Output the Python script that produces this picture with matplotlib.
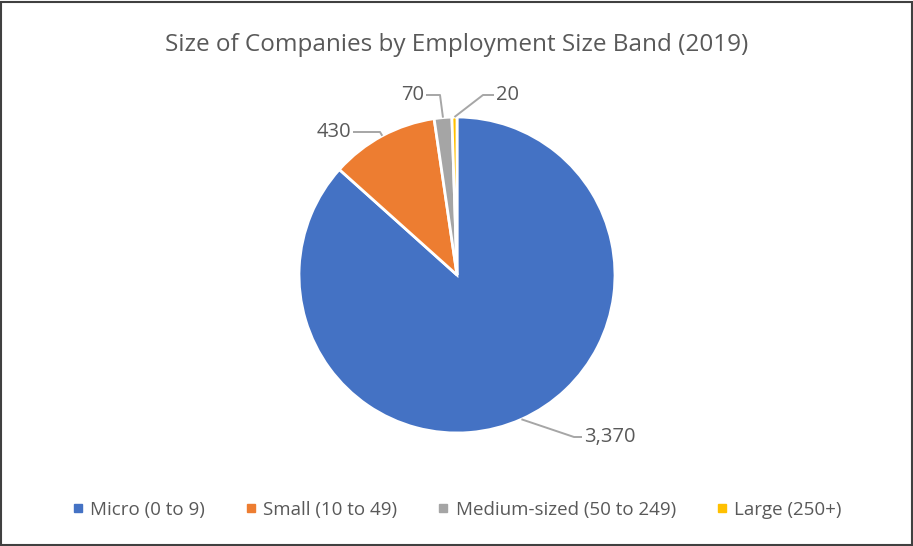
import numpy as np
import matplotlib.pyplot as plt
from matplotlib.patches import Rectangle
from matplotlib.lines import Line2D

plt.rcParams['font.family'] = ['Open Sans', 'DejaVu Sans']

bands = ["Micro (0 to 9)", "Small (10 to 49)", "Medium-sized (50 to 249)", "Large (250+)"]
counts = [3370, 430, 70, 20]
colors = ["#4472C4", "#ED7D31", "#A5A5A5", "#FFC000"]
value_labels = ["3,370", "430", "70", "20"]

text_color = "#595959"
line_color = "#A6A6A6"

fig = plt.figure(figsize=(9.13, 5.46), dpi=100)
ax = fig.add_axes([0, 0, 1, 1])

cx, cy, r = 457, 271, 158
wedges, _ = ax.pie(counts, colors=colors, startangle=90, counterclock=False,
                   center=(cx, cy), radius=r, frame=True,
                   wedgeprops=dict(edgecolor="white", linewidth=2))
ax.set_xlim(0, 913)
ax.set_ylim(0, 546)
ax.set_aspect("equal")
ax.axis("off")

# text position, alignment and elbow x for each slice label
label_pos = [(584, 109, "left", 574),
             (351, 414, "right", 380),
             (424, 451, "right", 440),
             (496, 451, "left", 483)]

for w, lab, (tx, ty, ha, ex) in zip(wedges, value_labels, label_pos):
    mid = np.deg2rad((w.theta1 + w.theta2) / 2)
    px = cx + r * np.cos(mid)
    py = cy + r * np.sin(mid)
    end = tx - 2 if ha == "left" else tx + 2
    ax.plot([px, ex, end], [py, ty, ty], color=line_color, lw=1.4,
            solid_capstyle="butt")
    ax.text(tx, ty, lab, ha=ha, va="center", fontsize=14.5, color=text_color)

fig.text(0.5, 1 - 45 / 546, "Size of Companies by Employment Size Band (2019)",
         ha="center", va="center", fontsize=17.5, color=text_color)

handles = [Line2D([], [], marker="s", linestyle="none", markersize=6,
                  markerfacecolor=c, markeredgecolor=c) for c in colors]
fig.legend(handles, bands, loc="center", bbox_to_anchor=(0.5, 1 - 510 / 546),
           ncol=4, frameon=False, fontsize=13.5, labelcolor=text_color,
           handletextpad=0.3, columnspacing=2.1, handlelength=0.7)

fig.patches.append(Rectangle((1 / 913, 1 / 546), 911 / 913, 543 / 546, fill=False,
                             edgecolor="#404040", lw=1.5, transform=fig.transFigure))

fig.savefig("out.png", dpi=100)
